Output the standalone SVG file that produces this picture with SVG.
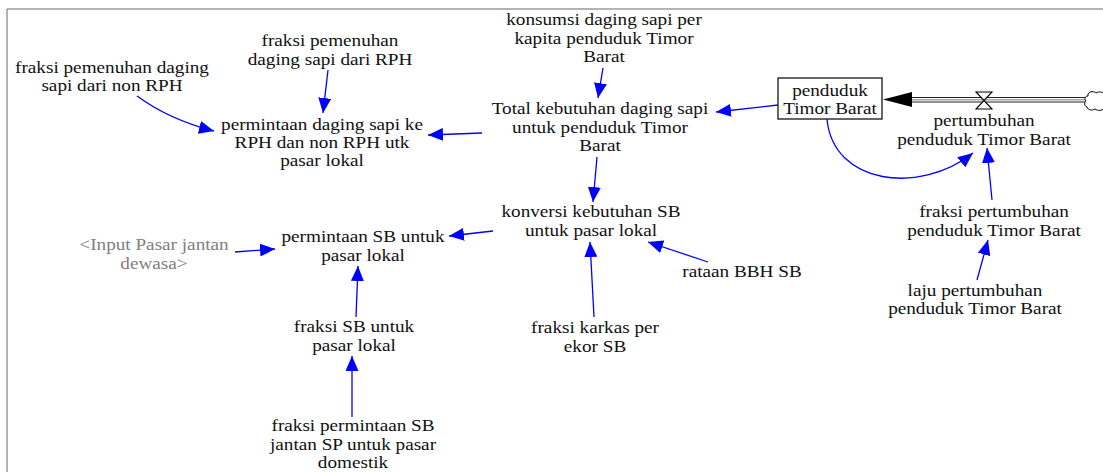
<svg xmlns="http://www.w3.org/2000/svg" width="1103" height="472" viewBox="0 0 1103 472">
<style>
text{font-family:'Liberation Serif','Times New Roman',Tinos,'DejaVu Serif',serif}
.t{font-size:16px;fill:#111;text-anchor:middle}
.g{fill:#808080}
.c{stroke:#0000ff;stroke-width:1.3;fill:none;marker-end:url(#ah)}
</style>
<defs>
<marker id="ah" markerUnits="userSpaceOnUse" markerWidth="16" markerHeight="13" refX="15" refY="6.5" orient="auto">
<path d="M0,0 L15,6.5 L0,13 z" fill="#0000ff"/>
</marker>
</defs>
<rect width="1103" height="472" fill="#fff"/>
<g id="frame" stroke="#666" stroke-width="1" fill="none">
<path d="M7,472 V9 H1103"/>
</g>
<g font-family="Liberation Serif, serif">
<g id="konsumsi"><text class="t" transform="translate(604,0) scale(1.2,1)"><tspan x="0" y="25">konsumsi daging sapi per</tspan><tspan x="0" y="44">kapita penduduk Timor</tspan><tspan x="0" y="62">Barat</tspan></text></g>
<g id="fraksi-rph"><text class="t" transform="translate(330,0) scale(1.2,1)"><tspan x="0" y="46.5">fraksi pemenuhan</tspan><tspan x="0" y="65">daging sapi dari RPH</tspan></text></g>
<g id="fraksi-nonrph"><text class="t" transform="translate(112,0) scale(1.2,1)"><tspan x="0" y="73">fraksi pemenuhan daging</tspan><tspan x="0" y="91">sapi dari non RPH</tspan></text></g>
<g id="permintaan-daging"><text class="t" transform="translate(322,0) scale(1.2,1)"><tspan x="0" y="130">permintaan daging sapi ke</tspan><tspan x="0" y="148">RPH dan non RPH utk</tspan><tspan x="0" y="166">pasar lokal</tspan></text></g>
<g id="total-kebutuhan"><text class="t" transform="translate(600,0) scale(1.2,1)"><tspan x="0" y="114">Total kebutuhan daging sapi</tspan><tspan x="0" y="133">untuk penduduk Timor</tspan><tspan x="0" y="151">Barat</tspan></text></g>
<g id="penduduk">
<rect x="778" y="78" width="104" height="41" fill="#fff" stroke="#000" stroke-width="1.2"/>
<text class="t" transform="translate(830,0) scale(1.2,1)"><tspan x="0" y="96">penduduk</tspan><tspan x="0" y="114">Timor Barat</tspan></text>
</g>
<g id="pertumbuhan">
<line x1="912" y1="97.5" x2="1087" y2="97.5" stroke="#222" stroke-width="1.2"/>
<line x1="912" y1="99.8" x2="1087" y2="99.8" stroke="#aaa" stroke-width="1.4"/>
<line x1="912" y1="102" x2="1087" y2="102" stroke="#222" stroke-width="1.2"/>
<polygon points="883,99.5 912,92 912,107" fill="#000"/>
<path d="M976,92 H992 L976,109 H992 Z" fill="#fff" stroke="#000" stroke-width="1.1"/>
<path d="M1088,94 c2,-3 6,-3 8,-1 c3,-2 7,-1 8,1 L1104,108 c-2,3 -6,3 -9,1 c-3,2 -7,1 -8,-2 c-3,-1 -3,-5 -1,-6 c-2,-2 -1,-5 2,-5 z" fill="#fff" stroke="#000" stroke-width="1"/>
<text class="t" transform="translate(984,0) scale(1.2,1)"><tspan x="0" y="126">pertumbuhan</tspan><tspan x="0" y="145">penduduk Timor Barat</tspan></text>
</g>
<g id="fraksi-pertumbuhan"><text class="t" transform="translate(994,0) scale(1.2,1)"><tspan x="0" y="217">fraksi pertumbuhan</tspan><tspan x="0" y="236">penduduk Timor Barat</tspan></text></g>
<g id="laju-pertumbuhan"><text class="t" transform="translate(975,0) scale(1.2,1)"><tspan x="0" y="296">laju pertumbuhan</tspan><tspan x="0" y="314">penduduk Timor Barat</tspan></text></g>
<g id="konversi"><text class="t" transform="translate(591,0) scale(1.2,1)"><tspan x="0" y="217">konversi kebutuhan SB</tspan><tspan x="0" y="236">untuk pasar lokal</tspan></text></g>
<g id="rataan"><text class="t" transform="translate(742,0) scale(1.2,1)"><tspan x="0" y="277">rataan BBH SB</tspan></text></g>
<g id="fraksi-karkas"><text class="t" transform="translate(595,0) scale(1.2,1)"><tspan x="0" y="333">fraksi karkas per</tspan><tspan x="0" y="352">ekor SB</tspan></text></g>
<g id="permintaan-sb"><text class="t" transform="translate(363,0) scale(1.2,1)"><tspan x="0" y="242">permintaan SB untuk</tspan><tspan x="0" y="261">pasar lokal</tspan></text></g>
<g id="input-pasar"><text class="t g" transform="translate(154,0) scale(1.2,1)"><tspan x="0" y="250">&lt;Input Pasar jantan</tspan><tspan x="0" y="269">dewasa&gt;</tspan></text></g>
<g id="fraksi-sb"><text class="t" transform="translate(354,0) scale(1.2,1)"><tspan x="0" y="332">fraksi SB untuk</tspan><tspan x="0" y="351">pasar lokal</tspan></text></g>
<g id="fraksi-permintaan"><text class="t" transform="translate(353,0) scale(1.2,1)"><tspan x="0" y="431">fraksi permintaan SB</tspan><tspan x="0" y="450">jantan SP untuk pasar</tspan><tspan x="0" y="468">domestik</tspan></text></g>
</g>
<g id="connectors">
<path class="c" d="M137,96 Q170,120 214,131"/>
<path class="c" d="M328,70 L323,113"/>
<path class="c" d="M482,133 L428,135"/>
<path class="c" d="M603,68 L598,98"/>
<path class="c" d="M778,105 L716,112"/>
<path class="c" d="M597,157 L593,202"/>
<path class="c" d="M493,231 L449,236"/>
<path class="c" d="M235,252 L275,249"/>
<path class="c" d="M356,317 L358,266"/>
<path class="c" d="M352,417 L352,356"/>
<path class="c" d="M594,317 L590,242"/>
<path class="c" d="M708,262 L648,242"/>
<path class="c" d="M992,200 L987,148"/>
<path class="c" d="M977,280 L988,240"/>
<path class="c" d="M827,119 C833,185 920,195 973,153"/>
</g>
</svg>
